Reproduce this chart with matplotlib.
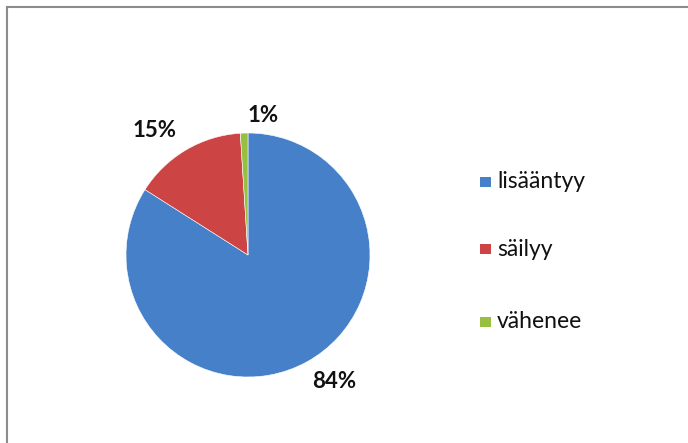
import matplotlib.pyplot as plt
from matplotlib.patches import Rectangle
from matplotlib.lines import Line2D

categories = ["lisääntyy", "säilyy", "vähenee"]
values = [84, 15, 1]
colors = ["#4680C8", "#CC4444", "#98C040"]

W, H = 688, 443
fig = plt.figure(figsize=(W / 100, H / 100), dpi=100)
fig.patch.set_facecolor("white")

# chart frame (top and left edges visible)
fig.add_artist(Line2D([6.5 / W, 6.5 / W], [0, 1 - 6.5 / H], color="#8c8c8c", lw=1.5))
fig.add_artist(Line2D([6.5 / W, 1], [1 - 6.5 / H, 1 - 6.5 / H], color="#8c8c8c", lw=1.5))

cx, cy, r = 248, 255, 122
ax = fig.add_axes([(cx - r) / W, (H - cy - r) / H, 2 * r / W, 2 * r / H])
wedges, _ = ax.pie(values, colors=colors, startangle=90, counterclock=False,
                   radius=1.0, wedgeprops=dict(edgecolor="#ffffff", linewidth=0.4))
ax.set_xlim(-1, 1)
ax.set_ylim(-1, 1)
ax.set_aspect("equal")
ax.axis("off")

# value labels placed around the pie
label_pos = [(0.705, -1.04), (-0.765, 1.02), (0.12, 1.145)]
for v, (x, y) in zip(values, label_pos):
    ax.text(x, y, f"{v}%", ha="center", va="center", fontsize=16,
            fontweight="bold", family=["Lato", "DejaVu Sans"], color="#111111",
            clip_on=False)

# legend
leg_y = [182, 249, 322]
for name, col, y in zip(categories, colors, leg_y):
    fig.add_artist(Rectangle((480 / W, (H - y - 5) / H), 11 / W, 10 / H,
                             facecolor=col, edgecolor="none", transform=fig.transFigure))
    fig.text(497 / W, (H - y) / H, name, ha="left", va="center", fontsize=16.5,
             family=["Lato", "DejaVu Sans"], color="#111111")

fig.savefig("out.png", dpi=100, facecolor="white")
